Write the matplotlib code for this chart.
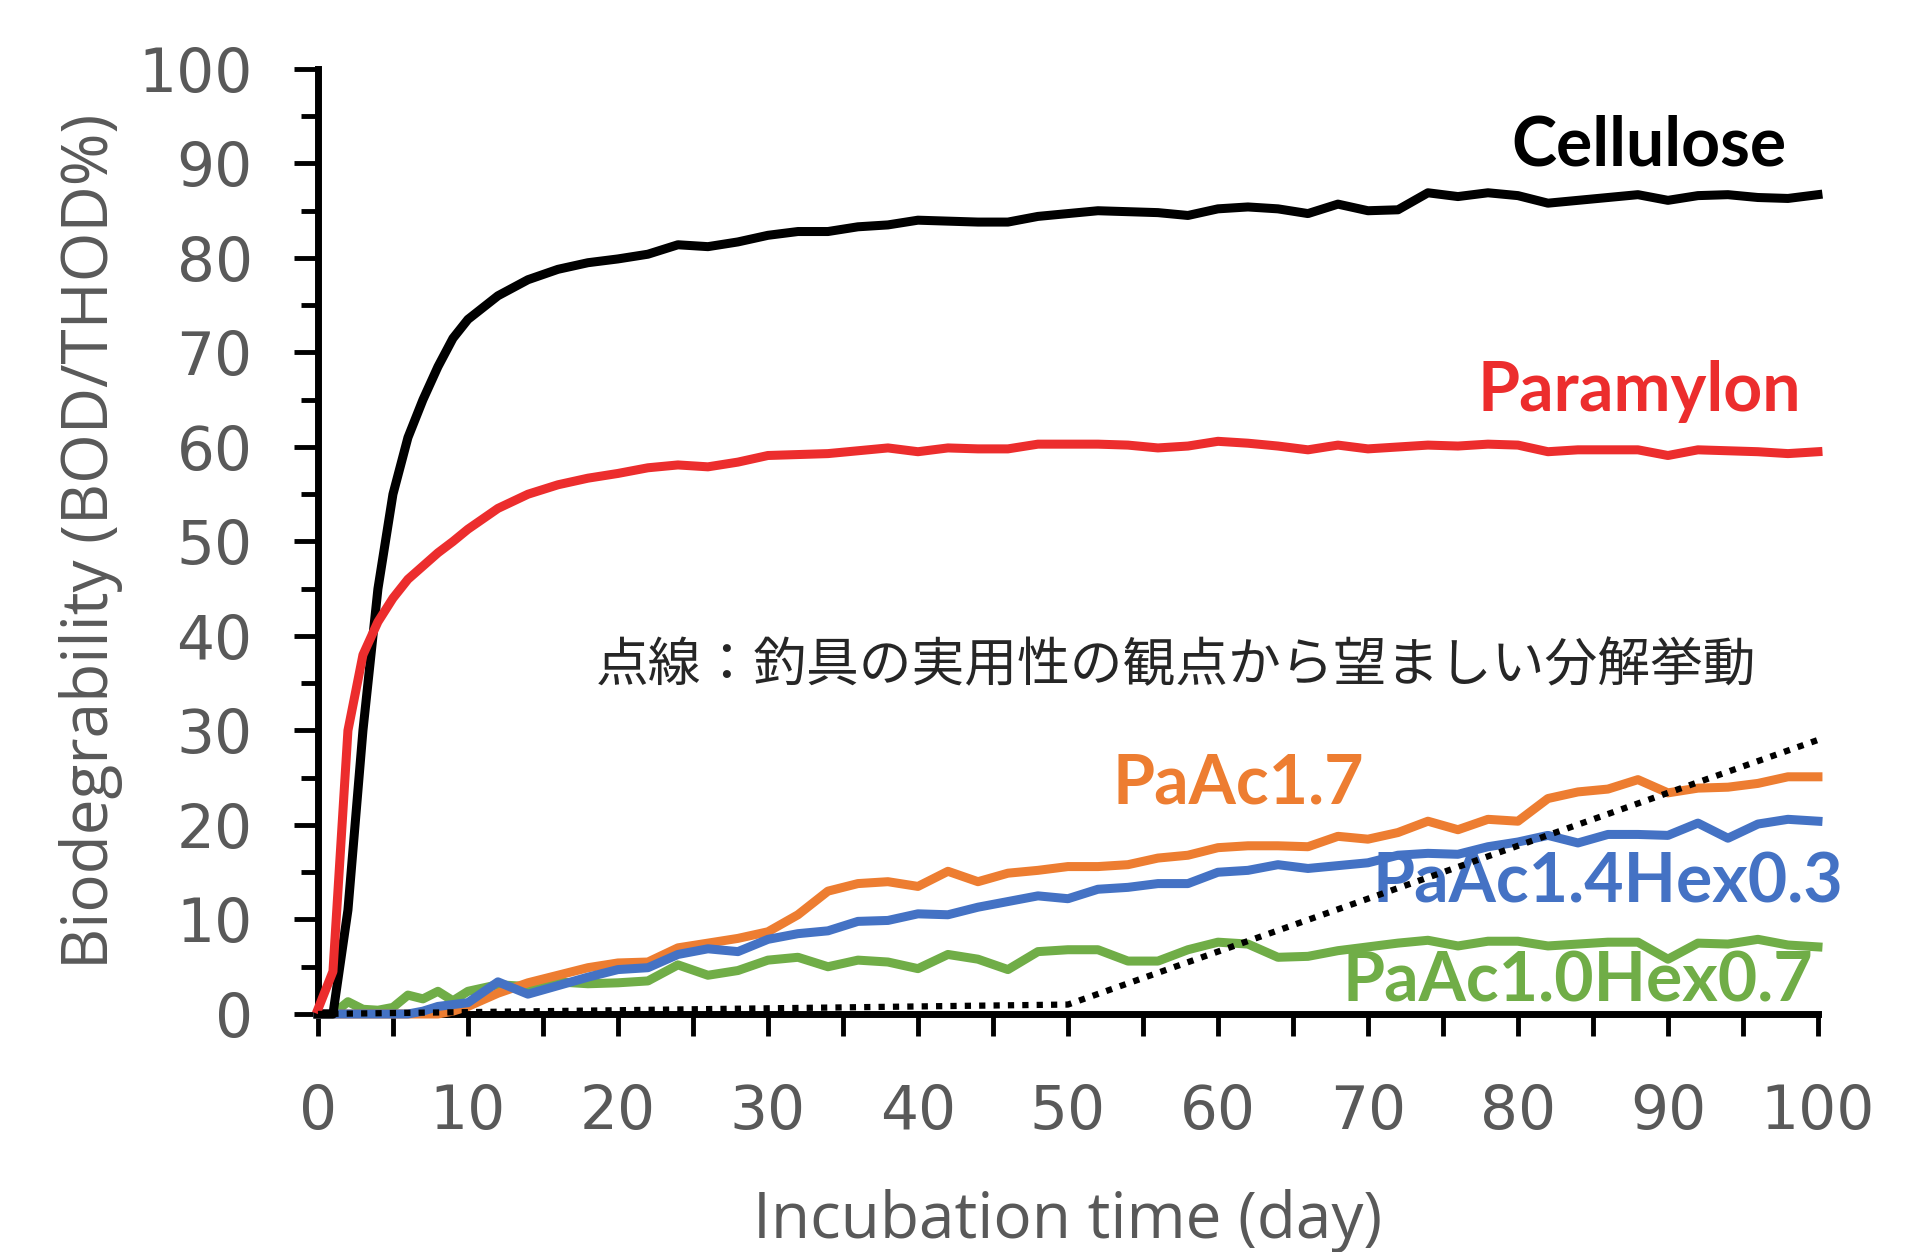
import matplotlib
matplotlib.use('Agg')
import matplotlib.pyplot as plt
from matplotlib.ticker import MultipleLocator

# incubation days (daily up to day 10, then every 2 days)
days = [0, 1, 2, 3, 4, 5, 6, 7, 8, 9, 10,
        12, 14, 16, 18, 20, 22, 24, 26, 28, 30,
        32, 34, 36, 38, 40, 42, 44, 46, 48, 50,
        52, 54, 56, 58, 60, 62, 64, 66, 68, 70,
        72, 74, 76, 78, 80, 82, 84, 86, 88, 90,
        92, 94, 96, 98, 100]

cellulose = [0, 0, 11, 30, 45, 55, 61, 65, 68.5, 71.5, 73.5,
             76, 77.7, 78.8, 79.5, 79.9, 80.4, 81.4, 81.2, 81.7, 82.4,
             82.8, 82.8, 83.3, 83.5, 84.0, 83.9, 83.8, 83.8, 84.4, 84.7,
             85.0, 84.9, 84.8, 84.5, 85.2, 85.4, 85.2, 84.7, 85.7, 85.0,
             85.1, 86.9, 86.5, 86.9, 86.6, 85.8, 86.1, 86.4, 86.7, 86.1,
             86.6, 86.7, 86.4, 86.3, 86.7]

paramylon = [0.5, 4.5, 30, 38, 41.5, 44, 46, 47.4, 48.8, 50, 51.3,
             53.5, 55, 56, 56.7, 57.2, 57.8, 58.1, 57.9, 58.4, 59.1,
             59.2, 59.3, 59.6, 59.9, 59.5, 59.9, 59.8, 59.8, 60.3, 60.3,
             60.3, 60.2, 59.9, 60.1, 60.6, 60.4, 60.1, 59.7, 60.2, 59.8,
             60.0, 60.2, 60.1, 60.3, 60.2, 59.5, 59.7, 59.7, 59.7, 59.1,
             59.7, 59.6, 59.5, 59.3, 59.5]

paac17 = [0, 0, 0, 0, 0, 0, 0, 0, 0, 0.3, 0.8,
          2.2, 3.3, 4.1, 4.9, 5.4, 5.5, 7.0, 7.5, 8.0, 8.7,
          10.5, 13.0, 13.8, 14.0, 13.5, 15.1, 14.0, 14.9, 15.2, 15.6,
          15.6, 15.8, 16.5, 16.8, 17.6, 17.8, 17.8, 17.7, 18.8, 18.5,
          19.2, 20.4, 19.5, 20.6, 20.4, 22.8, 23.5, 23.8, 24.8, 23.4,
          23.9, 24.0, 24.4, 25.1, 25.1]

paac14hex03 = [0, 0, 0, 0, 0, 0, 0, 0.3, 0.8, 1.0, 1.2,
               3.4, 2.1, 3.0, 3.9, 4.7, 4.9, 6.3, 6.9, 6.6, 7.9,
               8.5, 8.8, 9.8, 9.9, 10.6, 10.5, 11.3, 11.9, 12.5, 12.2,
               13.2, 13.4, 13.8, 13.8, 15.0, 15.2, 15.8, 15.4, 15.7, 16.0,
               16.8, 17.0, 16.9, 17.7, 18.2, 18.9, 18.1, 19.0, 19.0, 18.9,
               20.2, 18.6, 20.1, 20.6, 20.4]

paac10hex07 = [0, 0, 1.3, 0.5, 0.4, 0.7, 2.0, 1.6, 2.4, 1.4, 2.4,
               3.1, 2.9, 3.4, 3.2, 3.3, 3.5, 5.2, 4.1, 4.6, 5.7,
               6.0, 5.0, 5.7, 5.5, 4.8, 6.3, 5.8, 4.7, 6.6, 6.8,
               6.8, 5.6, 5.6, 6.8, 7.6, 7.4, 6.0, 6.1, 6.7, 7.1,
               7.5, 7.8, 7.2, 7.7, 7.7, 7.2, 7.4, 7.6, 7.6, 5.8,
               7.5, 7.4, 7.9, 7.3, 7.1]

# desired degradation for fishing gear (dotted)
target_days = [0, 50, 100]
target = [0, 1, 29]

GRAY = '#595959'
RED = '#EC2D2D'
ORANGE = '#ED7D31'
BLUE = '#4472C4'
GREEN = '#70AD47'

plt.rcParams['font.family'] = ['DejaVu Sans']

fig = plt.figure(figsize=(19.05, 12.52), dpi=100)
ax = fig.add_axes([0.1669, 0.1901, 0.7874, 0.7548])

lw = 6.5
ax.plot(days, paac10hex07, color=GREEN, lw=lw, clip_on=False, zorder=3)
ax.plot(days, paac17, color=ORANGE, lw=lw, clip_on=False, zorder=4)
ax.plot(days, paac14hex03, color=BLUE, lw=lw, clip_on=False, zorder=5)
ax.plot(days, cellulose, color='black', lw=lw, clip_on=False, zorder=6)
ax.plot(days, paramylon, color=RED, lw=lw, clip_on=False, zorder=7)
ax.plot(target_days, target, color='black', lw=4.5, linestyle=(0, (1.0, 1.3)),
        clip_on=False, zorder=8)

ax.set_xlim(0, 100)
ax.set_ylim(0, 100)
for s in ['top', 'right']:
    ax.spines[s].set_visible(False)
for s in ['left', 'bottom']:
    ax.spines[s].set_linewidth(5)
    ax.spines[s].set_zorder(2)

ax.xaxis.set_major_locator(MultipleLocator(10))
ax.xaxis.set_minor_locator(MultipleLocator(5))
ax.yaxis.set_major_locator(MultipleLocator(10))
ax.yaxis.set_minor_locator(MultipleLocator(5))

ax.tick_params(axis='x', which='both', direction='out', length=16, width=3.5,
               color='black', labelcolor=GRAY, labelsize=43, pad=34)
ax.tick_params(axis='y', which='major', direction='out', length=17, width=3.5,
               color='black', labelcolor=GRAY, labelsize=43, pad=30)
ax.tick_params(axis='y', which='minor', direction='out', length=12, width=3.5,
               color='black')

ax.set_xlabel('Incubation time (day)', fontsize=46, color=GRAY, family='Open Sans')
ax.xaxis.set_label_coords(0.5, -0.185)
ax.set_ylabel('Biodegrability (BOD/THOD%)', fontsize=46, color=GRAY, family='Open Sans')
ax.yaxis.set_label_coords(-0.13, 0.5)

lab = dict(fontsize=49, fontweight='bold', family='Lato', va='center')
ax.text(97.9, 91.8, 'Cellulose', color='black', ha='right', **lab)
ax.text(98.9, 65.9, 'Paramylon', color=RED, ha='right', **lab)
ax.text(53.0, 24.3, 'PaAc1.7', color=ORANGE, ha='left', **lab)
ax.text(101.7, 13.9, 'PaAc1.4Hex0.3', color=BLUE, ha='right', zorder=4.5, **lab)
ax.text(99.7, 3.4, 'PaAc1.0Hex0.7', color=GREEN, ha='right', **lab)

ax.text(18.5, 36.9, '点線：釣具の実用性の観点から望ましい分解挙動', fontsize=38,
        color='#262626', ha='left', va='center',
        family=['Noto Sans CJK JP', 'DejaVu Sans'])

fig.savefig('out.png', dpi=100)
